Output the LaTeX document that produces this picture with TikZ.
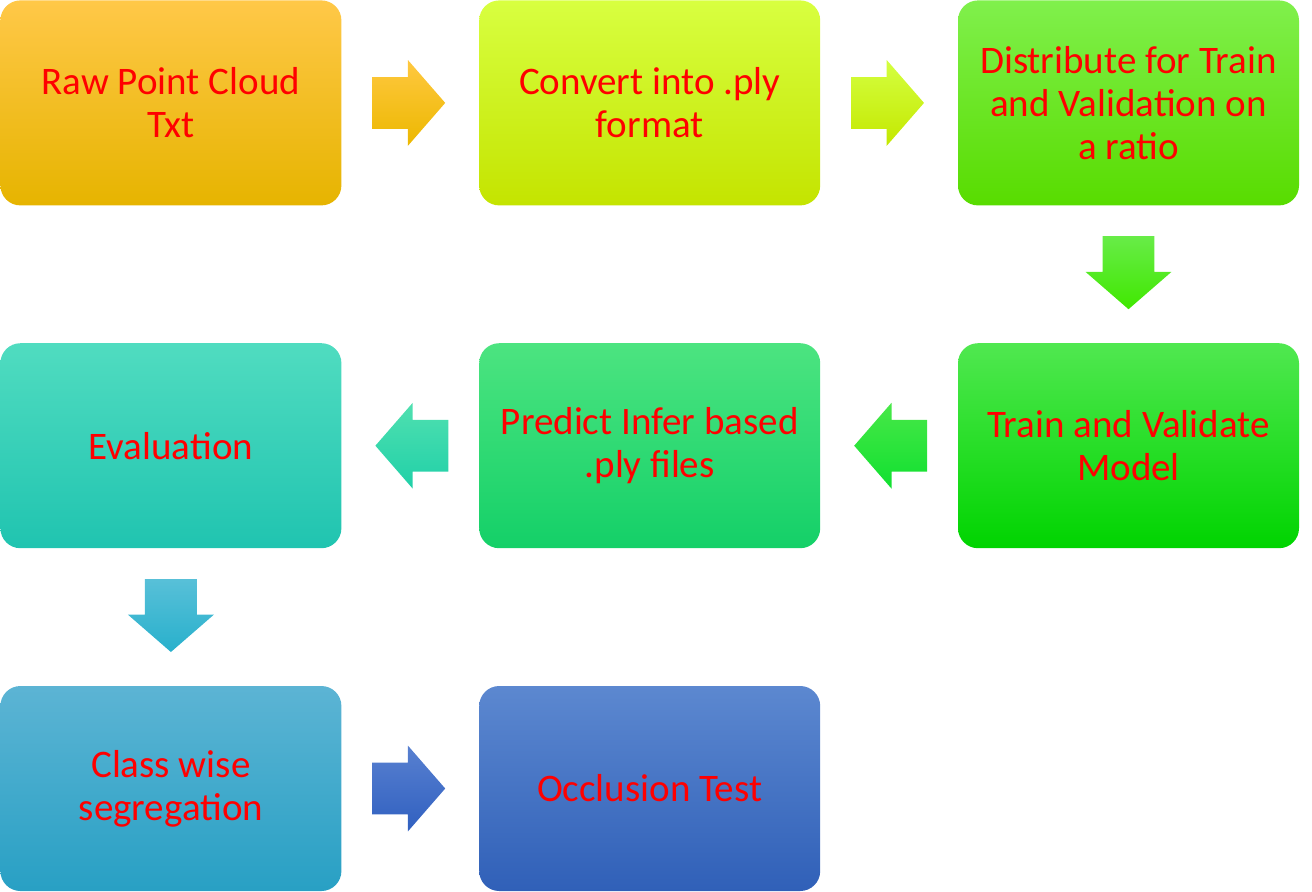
\documentclass[tikz,border=0pt]{standalone}
\usepackage{fontspec}
\setmainfont{Carlito}
\usetikzlibrary{positioning,shapes.arrows,calc}

\tikzset{
  stage/.style={rounded corners=10pt, minimum width=170.5pt, minimum height=102.5pt,
    align=center, inner sep=0pt, text=red,
    font=\fontsize{19.5pt}{21.5pt}\selectfont},
  flowarrow/.style={single arrow, anchor=tail, minimum height=36.5pt, minimum width=42.5pt,
    single arrow head extend=8.5pt, single arrow tip angle=98,
    inner xsep=0pt, inner ysep=12.75pt},
  downarrow/.style={flowarrow, shape border rotate=270, inner xsep=12.75pt, inner ysep=0pt},
  leftarrow/.style={flowarrow, shape border rotate=180},
}

\begin{document}
\begin{tikzpicture}[node distance=68.5pt and 68.5pt]
% boxes
\node[stage, top color={rgb,255:red,255;green,200;blue,72}, middle color={rgb,255:red,255;green,198;blue,0}, bottom color={rgb,255:red,230;green,180;blue,0}] (raw) {Raw Point Cloud\\Txt};
\node[stage, right=of raw, top color={rgb,255:red,216;green,255;blue,64}, middle color={rgb,255:red,212;green,255;blue,0}, bottom color={rgb,255:red,196;green,228;blue,0}] (ply) {Convert into .ply\\format};
\node[stage, right=of ply, top color={rgb,255:red,128;green,240;blue,76}, middle color={rgb,255:red,96;green,236;blue,16}, bottom color={rgb,255:red,88;green,220;blue,0}] (split) {Distribute for Train\\and Validation on\\a ratio};
\node[stage, below=of split, top color={rgb,255:red,80;green,232;blue,80}, middle color={rgb,255:red,24;green,232;blue,48}, bottom color={rgb,255:red,0;green,212;blue,0}] (train) {Train and Validate\\Model};
\node[stage, left=of train, top color={rgb,255:red,76;green,228;blue,128}, middle color={rgb,255:red,32;green,224;blue,112}, bottom color={rgb,255:red,20;green,208;blue,104}] (predict) {Predict Infer based\\.ply files};
\node[stage, left=of predict, top color={rgb,255:red,80;green,220;blue,192}, middle color={rgb,255:red,40;green,220;blue,184}, bottom color={rgb,255:red,32;green,196;blue,176}] (eval) {Evaluation};
\node[stage, below=of eval, top color={rgb,255:red,92;green,180;blue,212}, middle color={rgb,255:red,56;green,176;blue,212}, bottom color={rgb,255:red,40;green,160;blue,196}] (class) {Class wise\\segregation};
\node[stage, right=of class, top color={rgb,255:red,92;green,136;blue,208}, middle color={rgb,255:red,60;green,108;blue,200}, bottom color={rgb,255:red,48;green,96;blue,184}] (occl) {Occlusion Test};

% arrows
\node[flowarrow, top color={rgb,255:red,255;green,200;blue,64}, bottom color={rgb,255:red,236;green,184;blue,0}] (a1) at ([xshift=15pt]raw.east) {};
\node[flowarrow, top color={rgb,255:red,212;green,255;blue,64}, bottom color={rgb,255:red,196;green,232;blue,0}] (a2) at ([xshift=15pt]ply.east) {};
\node[downarrow, top color={rgb,255:red,104;green,236;blue,72}, bottom color={rgb,255:red,64;green,232;blue,0}] (a3) at ([yshift=-15pt]split.south) {};
\node[leftarrow, top color={rgb,255:red,72;green,232;blue,72}, bottom color={rgb,255:red,16;green,224;blue,48}] (a4) at ([xshift=-15pt]train.west) {};
\node[leftarrow, top color={rgb,255:red,80;green,224;blue,176}, bottom color={rgb,255:red,32;green,208;blue,168}] (a5) at ([xshift=-15pt]predict.west) {};
\node[downarrow, top color={rgb,255:red,88;green,192;blue,216}, bottom color={rgb,255:red,40;green,176;blue,204}] (a6) at ([yshift=-15pt]eval.south) {};
\node[flowarrow, top color={rgb,255:red,88;green,128;blue,208}, bottom color={rgb,255:red,48;green,96;blue,192}] (a7) at ([xshift=15pt]class.east) {};

\useasboundingbox (raw.north west) rectangle ($(raw.north west)+(656pt,-444.5pt)$);
\end{tikzpicture}
\end{document}
